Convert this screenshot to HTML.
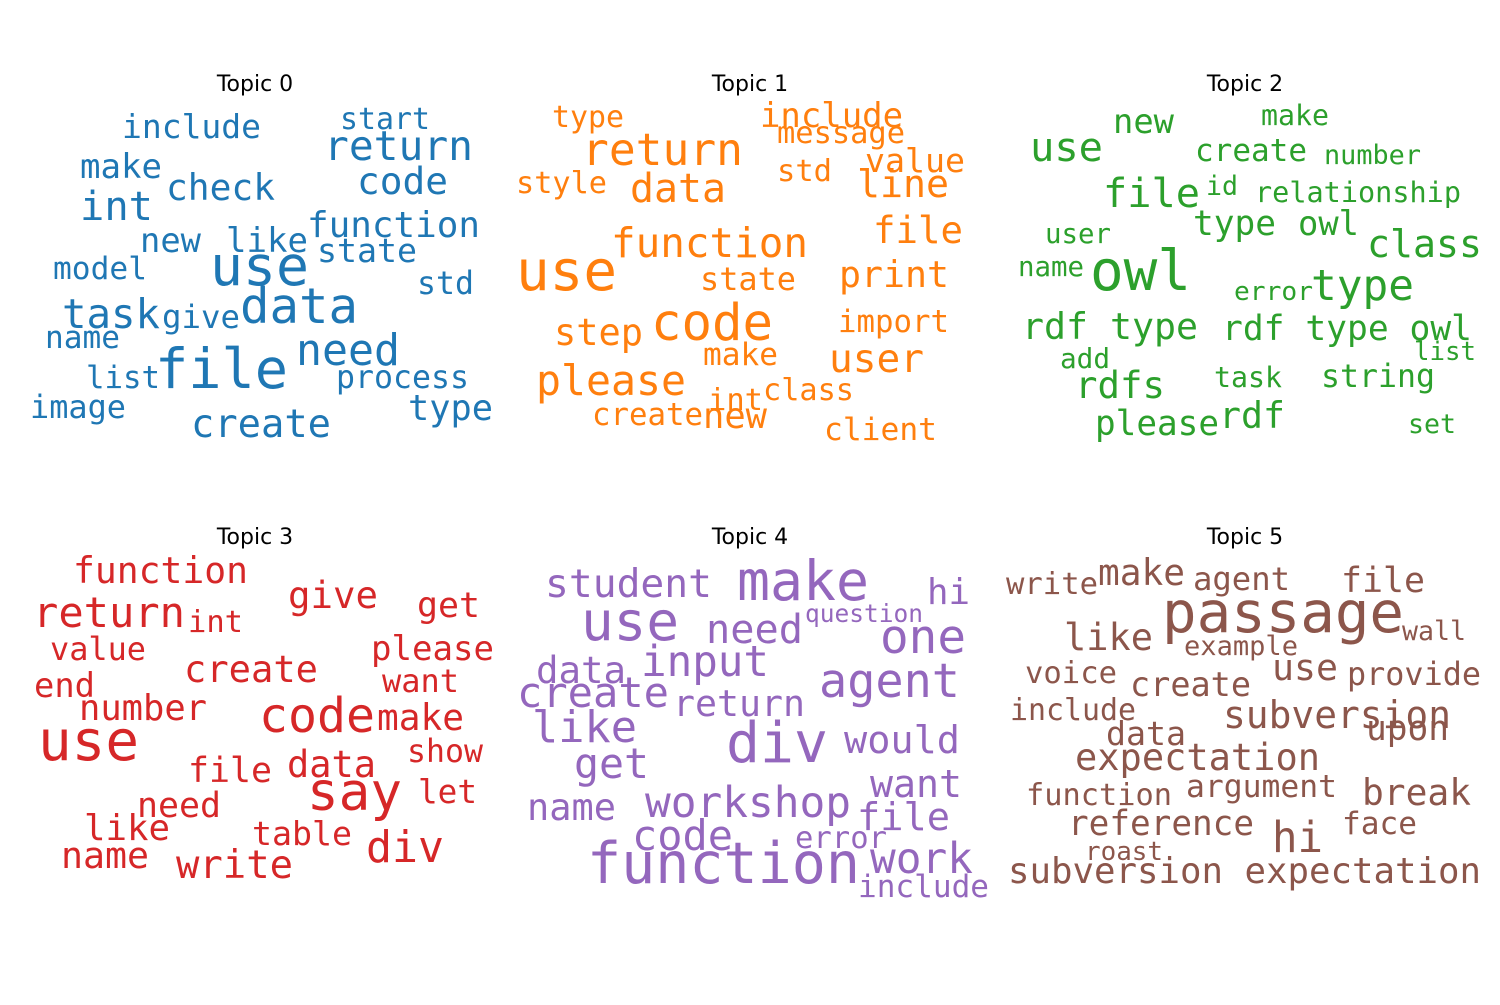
<!DOCTYPE html>
<html><head><meta charset="utf-8"><style>
html,body{margin:0;padding:0;background:#fff;}
svg text{font-family:"DejaVu Sans Mono","Liberation Mono",monospace;}
svg text.title{font-family:"DejaVu Sans","Liberation Sans",sans-serif;}
</style></head><body>
<svg id="chart" width="1500" height="1000" xmlns="http://www.w3.org/2000/svg"></svg>
<script>
const topicTitles=["Topic 0","Topic 1","Topic 2","Topic 3","Topic 4","Topic 5"];
const topicColors=["#1f77b4","#ff7f0e","#2ca02c","#d62728","#9467bd","#8c564b"];
const titlePos=[[255,91],[750,91],[1245,91],[255,544],[750,544],[1245,544]];
// word, left x, right x, baseline
const words0=[["include",122,261,138],["start",340,430,129],["return",324,473,160],["make",80,162,178],["check",166,275,200],["code",357,448,194],["int",80,153,220],["function",307,480,237],["new",140,201,252],["like",226,308,252],["state",317,417,262],["model",53,147,279],["use",210,309,285],["std",417,474,294],["task",62,160,328],["give",162,240,328],["data",240,358,323],["name",45,120,348],["need",296,400,365],["list",86,160,388],["file",155,288,388],["process",336,469,388],["image",30,126,418],["type",408,493,420],["create",191,331,437]];
const words1=[["type",552,624,127],["include",760,903,127],["message",777,905,143],["return",582,743,165],["value",865,965,172],["std",777,832,181],["style",516,607,193],["data",630,726,202],["line",857,949,197],["file",873,963,243],["function",611,808,257],["use",516,617,290],["state",700,796,290],["print",839,949,287],["import",838,949,332],["step",554,643,345],["code",651,773,340],["make",703,778,365],["user",829,924,372],["please",536,686,395],["class",763,854,400],["int",708,763,410],["create",592,703,425],["new",703,767,428],["client",824,937,440]];
const words2=[["new",1113,1174,133],["make",1261,1329,125],["use",1030,1103,161],["create",1195,1307,161],["number",1324,1421,164],["file",1103,1200,207],["id",1206,1238,195],["relationship",1255,1461,202],["type",1193,1276,235],["owl",1298,1359,235],["class",1367,1482,257],["user",1045,1111,243],["name",1018,1084,276],["owl",1090,1191,290],["error",1234,1313,300],["type",1311,1414,300],["rdf type",1022,1198,339],["rdf type owl",1222,1472,340],["add",1060,1110,368],["list",1414,1476,360],["rdfs",1075,1165,398],["task",1214,1282,387],["string",1321,1435,387],["please",1095,1219,435],["rdf",1219,1285,428],["set",1408,1456,433]];
const words3=[["function",73,248,583],["return",33,185,627],["int",188,243,632],["give",288,378,608],["get",417,480,617],["value",50,146,660],["please",371,494,660],["create",184,318,682],["end",34,95,697],["want",382,459,692],["number",79,207,720],["code",259,375,732],["make",377,464,730],["use",38,139,760],["show",407,483,762],["file",188,272,782],["data",287,376,777],["say",307,402,810],["let",418,477,803],["need",137,221,817],["like",84,170,840],["table",252,352,845],["div",366,444,862],["name",61,149,868],["write",176,293,878]];
const words4=[["student",545,712,597],["make",737,869,600],["hi",927,970,604],["question",805,923,622],["use",581,679,640],["need",706,803,643],["one",880,966,653],["data",536,626,683],["input",641,769,676],["agent",819,960,697],["create",517,669,707],["return",673,805,716],["like",532,637,742],["div",726,828,762],["would",844,960,753],["get",574,649,778],["want",870,962,797],["name",527,616,820],["workshop",645,851,817],["file",857,950,830],["code",632,733,850],["error",795,887,848],["function",587,860,883],["work",870,973,873],["include",858,989,897]];
const words5=[["write",1006,1098,594],["make",1098,1185,585],["agent",1193,1290,590],["file",1341,1425,592],["passage",1162,1404,632],["wall",1402,1466,640],["like",1064,1153,650],["example",1184,1298,655],["voice",1025,1117,683],["use",1272,1338,680],["provide",1347,1481,685],["create",1130,1251,696],["include",1010,1136,720],["subversion",1223,1451,728],["data",1106,1186,745],["upon",1366,1449,740],["expectation",1075,1320,770],["argument",1186,1337,797],["function",1026,1172,805],["break",1362,1471,805],["reference",1068,1254,835],["face",1342,1417,834],["hi",1272,1323,852],["roast",1085,1163,860],["subversion expectation",1008,1481,883]];
const allWords=[words0,words1,words2,words3,words4,words5];
const NS="http://www.w3.org/2000/svg";
const svg=document.getElementById('chart');
allWords.forEach((list,t)=>{
  const g=document.createElementNS(NS,'g');
  
  
  const ti=document.createElementNS(NS,'text');
  
  
  ti.setAttribute('class','title');
  ti.setAttribute('x',titlePos[t][0]);ti.setAttribute('y',titlePos[t][1]);
  ti.setAttribute('text-anchor','middle');ti.setAttribute('font-size','22');
  ti.textContent=topicTitles[t];
  g.appendChild(ti);
  list.forEach(w=>{
    const el=document.createElementNS(NS,'text');
    
    
    const wdt=w[2]-w[1];
    const fs=wdt/(0.602*w[0].length);
    el.setAttribute('x',w[1]);el.setAttribute('y',w[3]);
    el.setAttribute('font-size',fs.toFixed(1));
    el.setAttribute('fill',topicColors[t]);
    el.setAttribute('textLength',wdt);
    el.setAttribute('lengthAdjust','spacingAndGlyphs');
    el.textContent=w[0];
    g.appendChild(el);
  });
  svg.appendChild(g);
});
</script>
</body></html>
